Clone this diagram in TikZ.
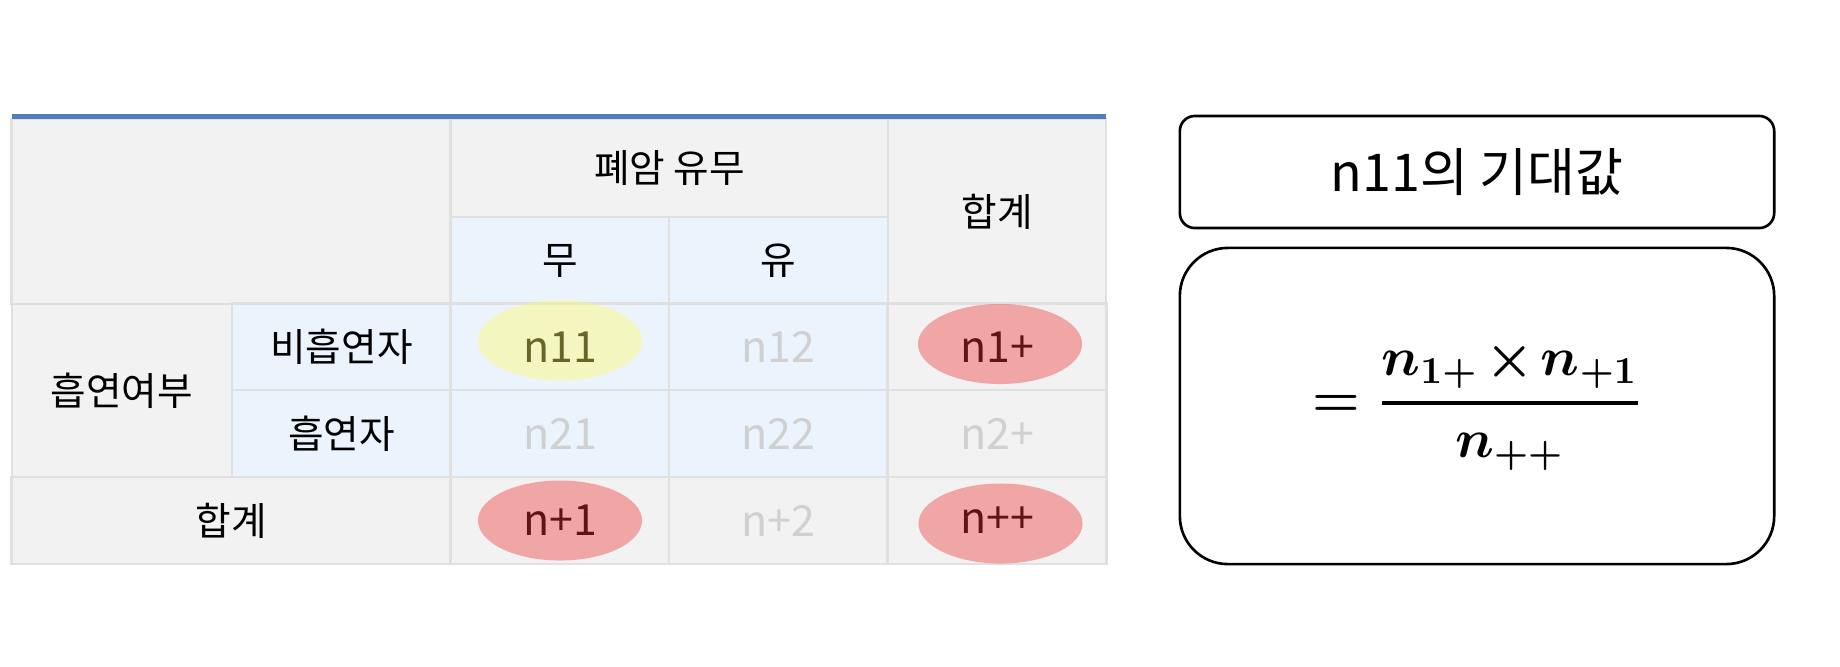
\documentclass[tikz,border=0pt]{standalone}
\usepackage{fix-cm}
\usepackage{amsmath}
\usepackage[no-math]{fontspec}
\setmainfont{Noto Sans CJK KR}
\definecolor{gridline}{RGB}{224,224,224}
\definecolor{hdgray}{RGB}{242,242,242}
\definecolor{cellblue}{RGB}{235,243,252}
\definecolor{topblue}{RGB}{79,128,189}
\definecolor{faint}{RGB}{208,208,208}
\definecolor{markyellow}{RGB}{255,255,100}
\definecolor{markred}{RGB}{240,52,52}

\begin{document}
\begin{tikzpicture}[x=0.01cm, y=-0.01cm,
    cell/.style={draw=gridline, line width=0.8pt, outer sep=0pt, inner sep=0pt,
                 font=\fontsize{11}{13}\selectfont},
    grey cell/.style={cell, fill=hdgray},
    blue cell/.style={cell, fill=cellblue},
    single/.style={minimum width=2.19cm, minimum height=0.87cm},
    num/.style={font=\fontsize{12.2}{14}\selectfont},
    faint num/.style={num, text=faint},
    hilite/.style={fill opacity=0.4},
    box/.style={draw, line width=0.75pt}]

  \useasboundingbox (0,0) rectangle (1840,666);

  % head rows
  \node[grey cell, minimum width=4.39cm, minimum height=1.85cm] (corner) at (231.5,211.5) {};
  \node[grey cell, minimum width=4.37cm, minimum height=0.98cm] (lung)   at (669.5,168)   {폐암 유무};
  \node[grey cell, minimum width=2.18cm, minimum height=1.85cm] (sumh)   at (997,211.5)   {합계};
  \node[blue cell, single] (no)  at (560,260.5)   {무};
  \node[blue cell, single] (yes) at (778.5,260.5) {유};

  % body rows
  \node[grey cell, minimum width=2.20cm, minimum height=1.73cm] (smoke) at (122,390.5) {흡연여부};
  \node[blue cell, single] (nonsm)  at (341.5,347)   {비흡연자};
  \node[blue cell, single] (smoker) at (341.5,433.5) {흡연자};
  \node[blue cell, single, num]       (n11) at (560,347)     {n11};
  \node[blue cell, single, faint num] (n12) at (778.5,347)   {n12};
  \node[grey cell, single, num]       (n1p) at (997,347)     {n1+};
  \node[blue cell, single, faint num] (n21) at (560,433.5)   {n21};
  \node[blue cell, single, faint num] (n22) at (778.5,433.5) {n22};
  \node[grey cell, single, faint num] (n2p) at (997,433.5)   {n2+};

  % total row
  \node[grey cell, minimum width=4.39cm, minimum height=0.87cm] (sumr) at (231.5,520.5) {합계};
  \node[grey cell, single, num]       (np1) at (560,520.5)   {n+1};
  \node[grey cell, single, faint num] (np2) at (778.5,520.5) {n+2};
  \node[grey cell, single, num]       (npp) at (997,520.5)   {n++};

  \draw[topblue, line width=1.4pt] ([yshift=0.025cm]corner.north west) -- ([yshift=0.025cm]sumh.north east);

  % marks
  \fill[hilite, markyellow] ([yshift=0.065cm]n11.center) ellipse [x radius=0.82cm, y radius=0.40cm];
  \fill[hilite, markred] ([xshift=0.03cm, yshift=0.03cm]n1p.center) ellipse [x radius=0.82cm, y radius=0.40cm];
  \fill[hilite, markred] (np1.center) ellipse [x radius=0.82cm, y radius=0.40cm];
  \fill[hilite, markred] ([xshift=0.035cm, yshift=-0.03cm]npp.center) ellipse [x radius=0.82cm, y radius=0.40cm];

  % right side
  \node[box, rounded corners=0.15cm, minimum width=5.94cm, minimum height=1.12cm,
        font=\fontsize{14.8}{16}\selectfont] (title) at (1477,172) {n11의 기대값};
  \node[box, rounded corners=0.48cm, minimum width=5.94cm, minimum height=3.16cm,
        font=\fontsize{15.5}{18}\selectfont\boldmath] (formula) at (1477,406)
        {$\medmuskip=2mu\displaystyle =\genfrac{}{}{1.1pt}{}{n_{1+}\times n_{+1}}{n_{++}}$};
\end{tikzpicture}
\end{document}
